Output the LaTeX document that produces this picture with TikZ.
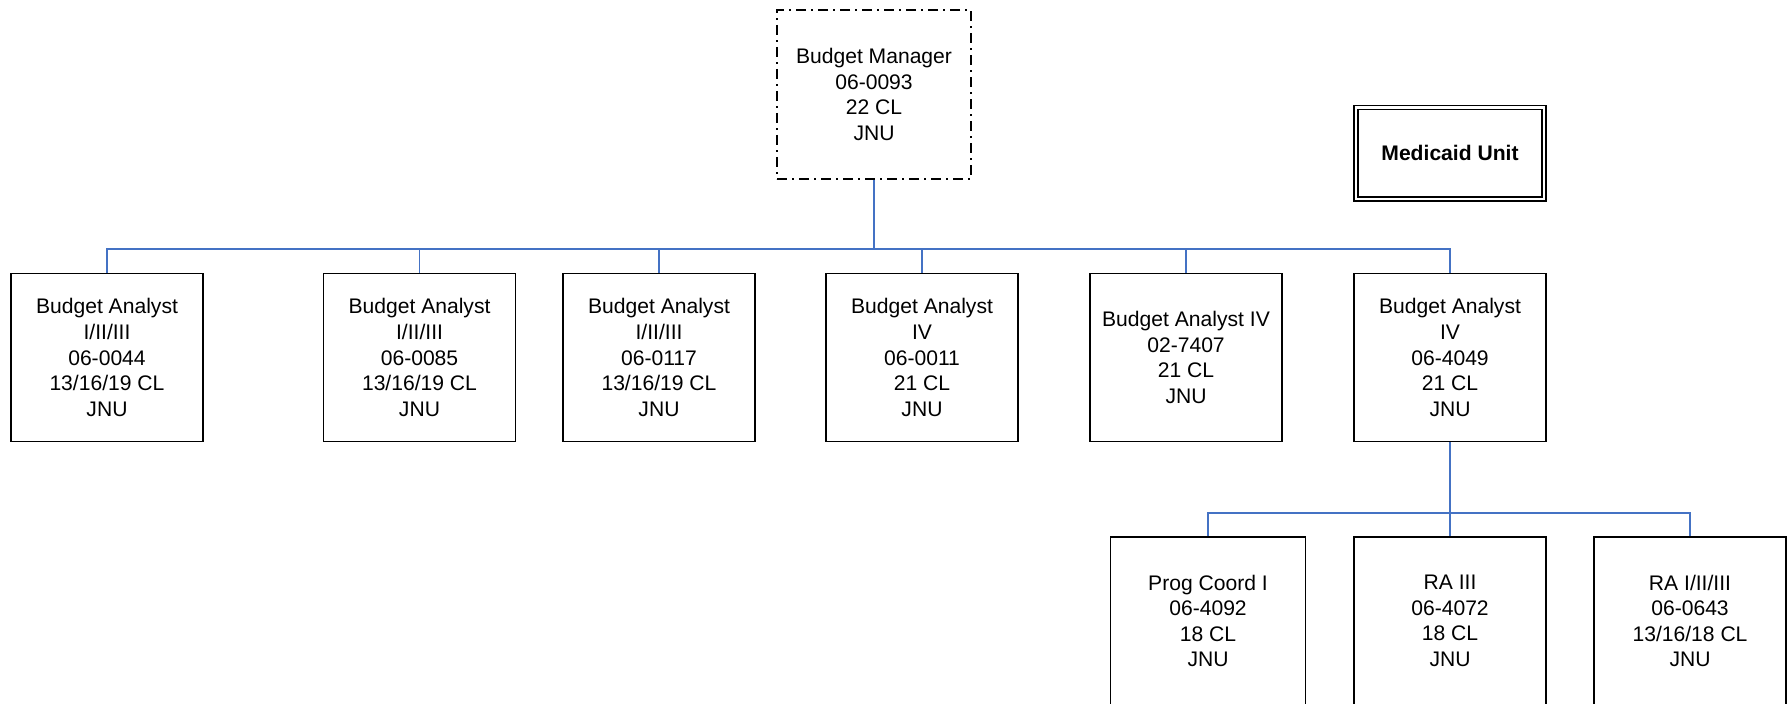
\documentclass[tikz,border=0pt]{standalone}
\usepackage{fontspec}
\setmainfont{Liberation Sans}
\definecolor{linkblue}{RGB}{68,114,196}
\tikzset{
  orgbox/.style={draw=black, line width=0.8pt, rectangle, minimum width=96pt, minimum height=84pt, align=center, inner sep=0pt, font=\fontsize{10.55}{12.8}\selectfont},
  topbox/.style={orgbox, dash pattern=on 5pt off 2.6pt on 0.8pt off 2.6pt, minimum width=97pt, minimum height=84.5pt},
  medbox/.style={draw=black, line width=0.8pt, double, double distance=1.2pt, rectangle, minimum width=94pt, minimum height=45.75pt, inner sep=0pt, font=\fontsize{10.55}{12.8}\selectfont\bfseries},
  link/.style={draw=linkblue, line width=0.9pt},
  mainlink/.style={draw=linkblue, line width=1.4pt}
}
\begin{document}
\begin{tikzpicture}[x=0.5pt, y=-0.5pt]
\useasboundingbox (0,0) rectangle (1787,704);
% top
\node[topbox] (bm) at (874,94.5) {Budget Manager\\06-0093\\22 CL\\JNU};
\node[medbox] (med) at (1450,153.25) {Medicaid Unit};
% level 2
\node[orgbox] (a1) at (107,357.5) {Budget Analyst\\I/II/III\\06-0044\\13/16/19 CL\\JNU};
\node[orgbox] (a2) at (419.5,357.5) {Budget Analyst\\I/II/III\\06-0085\\13/16/19 CL\\JNU};
\node[orgbox] (a3) at (659,357.5) {Budget Analyst\\I/II/III\\06-0117\\13/16/19 CL\\JNU};
\node[orgbox] (a4) at (922,357.5) {Budget Analyst\\IV\\06-0011\\21 CL\\JNU};
\node[orgbox] (a5) at (1186,357.5) {Budget Analyst IV\\02-7407\\21 CL\\JNU};
\node[orgbox] (a6) at (1450,357.5) {Budget Analyst\\IV\\06-4049\\21 CL\\JNU};
% level 3
\node[orgbox, minimum width=97.5pt] (p1) at (1208,621) {Prog Coord I\\06-4092\\18 CL\\JNU};
\node[orgbox] (p2) at (1450,621) {RA III\\06-4072\\18 CL\\JNU};
\node[orgbox] (p3) at (1690,621) {RA I/II/III\\06-0643\\13/16/18 CL\\JNU};
% connectors
\coordinate (bus1) at (874,249);
\coordinate (bus2) at (1450,513);
\draw[mainlink] (bm.south) -- (bus1);
\foreach \n in {a1,a2,a3,a4,a5,a6} {\draw[link] (\n.north) |- (bus1);}
\draw[link] (a6.south) -- (p2.north);
\draw[link] (p1.north) |- (bus2);
\draw[link] (p3.north) |- (bus2);
\end{tikzpicture}
\end{document}
